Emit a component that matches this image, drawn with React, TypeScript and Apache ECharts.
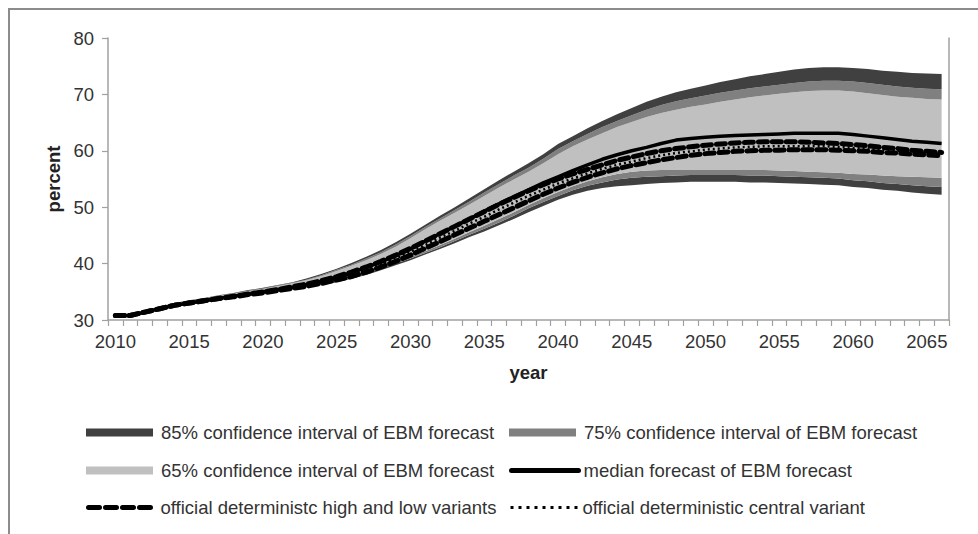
import React, { useEffect, useRef } from "react";
import * as echarts from "echarts";

const years: string[] = [];
for (let y = 2010; y <= 2066; y++) years.push(String(y));

const upper85 = [30.9, 31.0, 31.7, 32.4, 33.0, 33.5, 33.9, 34.4, 34.8, 35.3, 35.7, 36.2, 36.7, 37.4, 38.2, 39.1, 40.1, 41.2, 42.4, 43.8, 45.3, 46.9, 48.5, 50.0, 51.6, 53.2, 54.8, 56.3, 57.8, 59.4, 61.2, 62.6, 64.0, 65.3, 66.5, 67.6, 68.7, 69.6, 70.4, 71.0, 71.6, 72.2, 72.7, 73.2, 73.6, 74.0, 74.4, 74.7, 74.8, 74.8, 74.7, 74.5, 74.2, 74.0, 73.8, 73.7, 73.6];
const upper75 = [30.9, 31.0, 31.7, 32.4, 32.9, 33.4, 33.8, 34.3, 34.7, 35.2, 35.6, 36.1, 36.6, 37.2, 38.0, 38.9, 39.8, 40.9, 42.0, 43.4, 44.9, 46.5, 48.0, 49.5, 51.0, 52.6, 54.1, 55.6, 57.0, 58.6, 60.3, 61.7, 63.0, 64.2, 65.3, 66.3, 67.3, 68.1, 68.8, 69.3, 69.8, 70.3, 70.7, 71.1, 71.4, 71.7, 72.0, 72.3, 72.4, 72.4, 72.3, 72.0, 71.7, 71.4, 71.2, 71.0, 70.9];
const upper65 = [30.9, 31.0, 31.6, 32.3, 32.9, 33.3, 33.7, 34.2, 34.6, 35.1, 35.5, 36.0, 36.5, 37.1, 37.8, 38.7, 39.6, 40.6, 41.7, 43.0, 44.5, 46.1, 47.6, 49.0, 50.5, 52.0, 53.5, 54.9, 56.3, 57.8, 59.4, 60.8, 62.0, 63.1, 64.2, 65.1, 66.0, 66.7, 67.3, 67.8, 68.2, 68.7, 69.1, 69.5, 69.8, 70.1, 70.4, 70.6, 70.7, 70.7, 70.5, 70.2, 69.9, 69.6, 69.4, 69.2, 69.1];
const lower65 = [30.8, 30.8, 31.4, 32.0, 32.6, 33.0, 33.4, 33.8, 34.2, 34.5, 34.9, 35.2, 35.6, 36.0, 36.5, 37.1, 37.7, 38.5, 39.4, 40.3, 41.2, 42.2, 43.3, 44.4, 45.6, 46.7, 47.9, 49.1, 50.4, 51.6, 52.7, 53.7, 54.6, 55.3, 55.9, 56.3, 56.5, 56.6, 56.6, 56.6, 56.6, 56.6, 56.6, 56.6, 56.6, 56.5, 56.4, 56.3, 56.2, 56.1, 55.9, 55.8, 55.6, 55.5, 55.4, 55.3, 55.2];
const lower75 = [30.7, 30.7, 31.3, 31.9, 32.5, 32.9, 33.3, 33.7, 34.1, 34.4, 34.8, 35.1, 35.5, 35.9, 36.4, 36.9, 37.5, 38.2, 39.1, 40.0, 40.9, 41.9, 42.9, 44.0, 45.1, 46.2, 47.3, 48.5, 49.8, 50.9, 52.0, 53.0, 53.8, 54.4, 54.9, 55.2, 55.4, 55.5, 55.6, 55.7, 55.7, 55.7, 55.7, 55.6, 55.6, 55.5, 55.4, 55.3, 55.2, 55.1, 54.8, 54.6, 54.3, 54.1, 53.9, 53.7, 53.6];
const lower85 = [30.7, 30.7, 31.3, 31.9, 32.5, 32.9, 33.2, 33.6, 34.0, 34.3, 34.7, 35.0, 35.4, 35.8, 36.2, 36.7, 37.3, 38.0, 38.8, 39.7, 40.6, 41.6, 42.6, 43.6, 44.7, 45.7, 46.8, 47.9, 49.1, 50.2, 51.3, 52.2, 52.9, 53.4, 53.7, 53.9, 54.1, 54.3, 54.4, 54.5, 54.5, 54.5, 54.5, 54.4, 54.4, 54.3, 54.2, 54.1, 54.0, 53.9, 53.6, 53.4, 53.1, 52.9, 52.6, 52.4, 52.2];
const median = [30.8, 30.8, 31.4, 32.0, 32.6, 33.0, 33.4, 33.8, 34.2, 34.6, 35.0, 35.4, 35.8, 36.3, 36.9, 37.6, 38.4, 39.3, 40.3, 41.4, 42.6, 44.0, 45.3, 46.6, 47.9, 49.3, 50.6, 51.9, 53.1, 54.3, 55.4, 56.5, 57.5, 58.5, 59.3, 60.0, 60.6, 61.3, 61.9, 62.2, 62.4, 62.6, 62.7, 62.8, 62.9, 63.0, 63.1, 63.1, 63.1, 63.1, 62.9, 62.6, 62.3, 62.0, 61.7, 61.5, 61.3];
const highVariant = [30.8, 30.8, 31.4, 32.0, 32.6, 33.0, 33.4, 33.8, 34.2, 34.6, 35.0, 35.4, 35.9, 36.4, 37.0, 37.7, 38.5, 39.4, 40.4, 41.5, 42.7, 44.0, 45.3, 46.6, 47.9, 49.2, 50.5, 51.7, 52.9, 54.0, 55.0, 55.9, 56.7, 57.5, 58.3, 58.9, 59.5, 60.0, 60.4, 60.7, 61.0, 61.2, 61.4, 61.5, 61.6, 61.6, 61.6, 61.5, 61.4, 61.3, 61.1, 60.9, 60.6, 60.4, 60.1, 59.9, 59.7];
const lowVariant = [30.8, 30.8, 31.4, 32.0, 32.6, 33.0, 33.4, 33.8, 34.1, 34.5, 34.8, 35.2, 35.6, 36.0, 36.5, 37.1, 37.7, 38.5, 39.4, 40.4, 41.5, 42.7, 43.9, 45.1, 46.3, 47.5, 48.7, 49.9, 51.1, 52.3, 53.4, 54.4, 55.3, 56.1, 56.8, 57.4, 57.9, 58.4, 58.8, 59.2, 59.5, 59.7, 59.9, 60.0, 60.1, 60.1, 60.2, 60.2, 60.2, 60.1, 60.0, 59.9, 59.7, 59.6, 59.4, 59.3, 59.1];
const centralVariant = [30.8, 30.8, 31.4, 32.0, 32.6, 33.0, 33.4, 33.8, 34.2, 34.5, 34.9, 35.3, 35.7, 36.2, 36.7, 37.4, 38.1, 38.9, 39.9, 40.9, 42.1, 43.3, 44.6, 45.8, 47.1, 48.3, 49.6, 50.8, 52.0, 53.1, 54.2, 55.1, 56.0, 56.8, 57.5, 58.1, 58.7, 59.2, 59.6, 59.9, 60.2, 60.4, 60.6, 60.7, 60.8, 60.8, 60.8, 60.8, 60.8, 60.7, 60.5, 60.4, 60.2, 60.0, 59.8, 59.6, 59.4];

const N85 = "85% confidence interval of EBM forecast";
const N75 = "75% confidence interval of EBM forecast";
const N65 = "65% confidence interval of EBM forecast";
const NMED = "median forecast of EBM forecast";
const NHL = "official deterministc high and low variants";
const NCEN = "official deterministic central variant";

const FONT = "'Liberation Sans', Arial, sans-serif";

const diff = (a: number[], b: number[]) => a.map((v, i) => Math.round((v - b[i]) * 100) / 100);

export default function App() {
  const ref = useRef<HTMLDivElement>(null);
  useEffect(() => {
    if (!ref.current) return;
    const chart = echarts.init(ref.current, undefined, { renderer: "svg" });
    const band = (name: string, data: number[], color: string) => ({
      name,
      type: "line",
      stack: "band",
      data,
      symbol: "none",
      silent: true,
      lineStyle: { width: 0, opacity: 0 },
      itemStyle: { color },
      areaStyle: { color, opacity: 1 },
      z: 1,
    });
    const legendBase = {
      orient: "horizontal",
      padding: 0,
      itemWidth: 67,
      itemHeight: 8,
      selectedMode: false,
      textStyle: { fontSize: 18.5, color: "#333", fontFamily: FONT, padding: [0, 0, 0, 3] },
    };
    const lineLegend = (name: string, left: number, top: number, lineStyle: any) => ({
      ...legendBase,
      left,
      top,
      itemStyle: { opacity: 0 },
      lineStyle: { color: "#000", ...lineStyle },
      textStyle: { fontSize: 18.5, color: "#333", fontFamily: FONT, padding: [0, 0, 0, 0] },
      data: [{ name }],
    });
    const col1 = 86;
    const col2 = 509;
    const rows = [423, 461, 498];
    chart.setOption({
      animation: false,
      backgroundColor: "#fff",
      textStyle: { fontFamily: FONT },
      graphic: [
        {
          type: "rect",
          shape: { x: 9, y: 9, width: 1000, height: 600 },
          style: { fill: "none", stroke: "#8c8c8c", lineWidth: 2 },
          silent: true,
        },
      ],
      grid: { left: 108, right: 29, top: 38, bottom: 214, containLabel: false },
      xAxis: {
        type: "category",
        data: years,
        boundaryGap: true,
        name: "year",
        nameLocation: "middle",
        nameGap: 43,
        nameTextStyle: { fontSize: 18.5, fontWeight: "bold", color: "#222", fontFamily: FONT },
        axisLine: { lineStyle: { color: "#a0a0a0", width: 1.5 } },
        axisTick: { show: true, interval: 0, length: 6, lineStyle: { color: "#a0a0a0", width: 1.2 } },
        axisLabel: { interval: 4, fontSize: 18.5, color: "#333", margin: 12, fontFamily: FONT },
        splitLine: { show: false },
      },
      yAxis: [
        {
          type: "value",
          min: 30,
          max: 80,
          interval: 10,
          name: "percent",
          nameLocation: "middle",
          nameGap: 44,
          nameTextStyle: { fontSize: 18.5, fontWeight: "bold", color: "#222", fontFamily: FONT },
          axisLine: { show: true, lineStyle: { color: "#a0a0a0", width: 1.5 } },
          axisTick: { show: true, length: 6, lineStyle: { color: "#a0a0a0", width: 1.2 } },
          axisLabel: { fontSize: 18.5, color: "#333", margin: 14, fontFamily: FONT },
          splitLine: { show: false },
        },
        {
          type: "value",
          min: 30,
          max: 80,
          interval: 10,
          position: "right",
          axisLine: { show: true, lineStyle: { color: "#a0a0a0", width: 1.5 } },
          axisTick: { show: false },
          axisLabel: { show: false },
          splitLine: { show: false },
        },
      ],
      legend: [
        { ...legendBase, left: col1, top: rows[0], data: [{ name: N85, icon: "rect" }] },
        { ...legendBase, left: col2, top: rows[0], data: [{ name: N75, icon: "rect" }] },
        { ...legendBase, left: col1, top: rows[1], data: [{ name: N65, icon: "rect" }] },
        lineLegend(NMED, col2, rows[1], { width: 5, type: "solid", cap: "round" }),
        lineLegend(NHL, col1, rows[2], { width: 5, type: [11, 6], cap: "round" }),
        lineLegend(NCEN, col2, rows[2], { width: 3, type: [3, 5] }),
      ],
      series: [
        {
          name: "base",
          type: "line",
          stack: "band",
          data: lower85,
          symbol: "none",
          silent: true,
          lineStyle: { width: 0, opacity: 0 },
          z: 1,
        },
        band(N85, diff(lower75, lower85), "#404040"),
        band(N75, diff(lower65, lower75), "#808080"),
        band(N65, diff(upper65, lower65), "#c0c0c0"),
        band(N75, diff(upper75, upper65), "#808080"),
        band(N85, diff(upper85, upper75), "#404040"),
        {
          name: NMED,
          type: "line",
          data: median,
          symbol: "none",
          itemStyle: { color: "#000" },
          lineStyle: { color: "#000", width: 3.5 },
          z: 3,
        },
        {
          name: NHL,
          type: "line",
          data: highVariant,
          symbol: "none",
          itemStyle: { color: "#000" },
          lineStyle: { color: "#000", width: 5, type: [9, 5], cap: "round" },
          z: 4,
        },
        {
          name: NHL,
          type: "line",
          data: lowVariant,
          symbol: "none",
          itemStyle: { color: "#000" },
          lineStyle: { color: "#000", width: 5, type: [9, 5], cap: "round" },
          z: 4,
        },
        {
          name: NCEN,
          type: "line",
          data: centralVariant,
          symbol: "none",
          itemStyle: { color: "#000" },
          lineStyle: { color: "#000", width: 2.5, type: [2, 3] },
          z: 5,
        },
      ],
    });
    return () => chart.dispose();
  }, []);
  return (
    <div
      ref={ref}
      style={{ position: "fixed", left: 0, top: 0, width: 978, height: 534, background: "#fff" }}
    />
  );
}
